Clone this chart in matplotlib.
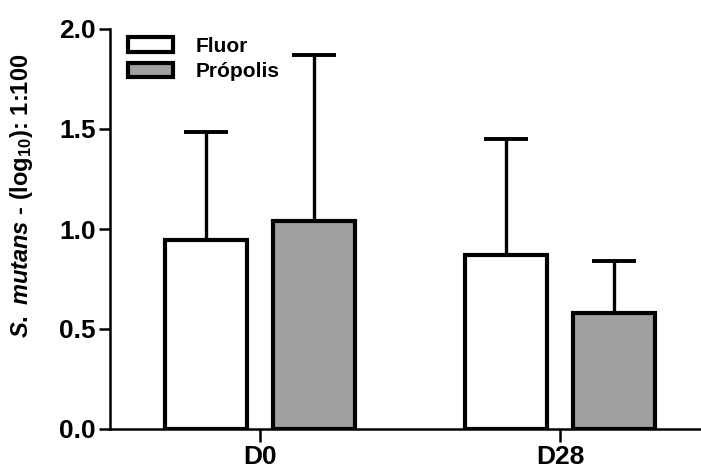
import matplotlib
matplotlib.use('Agg')
import matplotlib.pyplot as plt
import numpy as np

plt.rcParams['font.family'] = 'Liberation Sans'
plt.rcParams['font.weight'] = 'bold'
plt.rcParams['mathtext.fontset'] = 'custom'
plt.rcParams['mathtext.it'] = 'Liberation Sans:italic:bold'
plt.rcParams['mathtext.rm'] = 'Liberation Sans:bold'
plt.rcParams['mathtext.bf'] = 'Liberation Sans:bold'

groups = ['D0', 'D28']
series = ['Fluor', 'Própolis']
fluor_mean = [0.945, 0.87]
fluor_err = [0.54, 0.58]
propolis_mean = [1.04, 0.578]
propolis_err = [0.83, 0.26]

colors = ['white', '#A0A0A3']
width = 0.276
offset = 0.18

fig = plt.figure(figsize=(7.01, 4.70), dpi=100)
ax = fig.add_axes([110 / 701, 1 - 429 / 470, 591 / 701, 400 / 470])

x = np.arange(len(groups))
bars = []
for i, (mean, err) in enumerate([(fluor_mean, fluor_err), (propolis_mean, propolis_err)]):
    pos = x + (i * 2 - 1) * offset
    b = ax.bar(pos, mean, width, color=colors[i], edgecolor='black',
               linewidth=3, label=series[i], zorder=2)
    bars.append(b)
    ax.errorbar(pos, mean, yerr=[np.zeros(len(err)), err], fmt='none',
                ecolor='black', elinewidth=2.4, capsize=16, capthick=2.8,
                zorder=1)

ax.set_xlim(-0.5, 1.47)
ax.set_ylim(0, 2.0)
ax.set_yticks([0.0, 0.5, 1.0, 1.5, 2.0])
ax.set_yticklabels(['0.0', '0.5', '1.0', '1.5', '2.0'])
ax.set_xticks(x)
ax.set_xticklabels(groups)

for s in ['top', 'right']:
    ax.spines[s].set_visible(False)
for s in ['left', 'bottom']:
    ax.spines[s].set_linewidth(1.8)
ax.tick_params(axis='both', length=8, width=1.8, labelsize=19)
ax.tick_params(axis='y', pad=2)
ax.tick_params(axis='x', length=9, pad=2.5)

fig.text(22 / 701, 1 - 196 / 470,
         r'$\mathit{S.}$ $\mathit{mutans}$ - (log$_{\mathrm{10}}$): 1:100',
         rotation=90, ha='center', va='center', fontsize=17,
         fontweight='bold')

leg = ax.legend(handles=bars, labels=series, loc='upper left',
                bbox_to_anchor=(0.03, 0.98), frameon=False, fontsize=15,
                handlelength=2.15, handleheight=0.72, handletextpad=1.1,
                labelspacing=0.3, borderpad=0, borderaxespad=0)

fig.savefig('out.png', dpi=100)
